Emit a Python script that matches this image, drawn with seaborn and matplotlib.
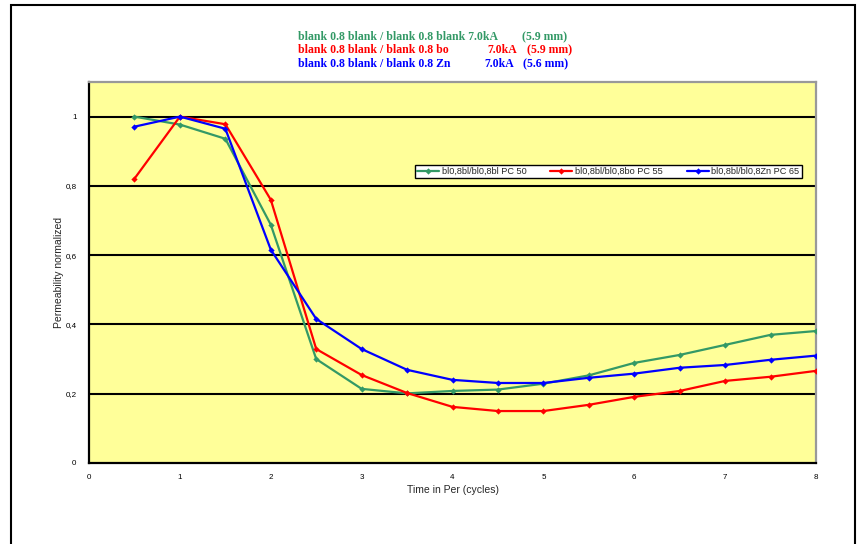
import numpy as np
import pandas as pd
import matplotlib.pyplot as plt
import matplotlib.patches as mpatches
import seaborn as sns

# data
cycles = [0.5, 1, 1.5, 2, 2.5, 3, 3.5, 4, 4.5, 5, 5.5, 6, 6.5, 7, 7.5, 8]

pc50 = [1.0, 0.977, 0.936, 0.688, 0.300, 0.214, 0.201, 0.208, 0.212, 0.229,
        0.253, 0.289, 0.312, 0.341, 0.370, 0.381]
pc55 = [0.821, 1.0, 0.978, 0.760, 0.329, 0.254, 0.202, 0.162, 0.150, 0.150,
        0.168, 0.191, 0.208, 0.237, 0.249, 0.266]
pc65 = [0.971, 1.0, 0.965, 0.616, 0.416, 0.329, 0.269, 0.240, 0.231, 0.231,
        0.246, 0.258, 0.275, 0.283, 0.298, 0.310]

series_names = ["bl0,8bl/bl0,8bl PC 50", "bl0,8bl/bl0,8bo PC 55", "bl0,8bl/bl0,8Zn PC 65"]
series_colors = ["#339966", "#FF0000", "#0000FF"]

yticks = [0, 0.2, 0.4, 0.6, 0.8, 1]
ytick_labels = ["0", "0,2", "0,4", "0,6", "0,8", "1"]
xticks = [0, 1, 2, 3, 4, 5, 6, 7, 8]

df = pd.concat([
    pd.DataFrame({"cycles": cycles, "perm": vals, "series": name})
    for name, vals in zip(series_names, [pc50, pc55, pc65])
])

sns.set_style("white")
plt.rcParams['font.family'] = ['Liberation Sans', 'DejaVu Sans']

fig = plt.figure(figsize=(8.57, 5.44), dpi=100)
ax = fig.add_axes([0.1039, 0.1489, 0.8483, 0.7004])
ax.set_facecolor("#FFFF99")

sns.lineplot(
    data=df, x="cycles", y="perm", hue="series",
    palette=dict(zip(series_names, series_colors)),
    marker="D", markersize=3.2, markeredgewidth=0,
    linewidth=1.6, ax=ax, legend=False, zorder=3
)

ax.set_xlim(0, 8)
ax.set_ylim(0, 1.1)
ax.set_xticks(xticks)
ax.set_xticklabels([str(t) for t in xticks])
ax.set_yticks(yticks)
ax.set_yticklabels(ytick_labels)
ax.tick_params(axis="both", direction="out", length=3, width=1.2,
               colors="black", labelsize=5.8, pad=6)
ax.tick_params(axis="x", pad=5)

for y in yticks[1:]:
    ax.axhline(y, color="black", lw=1.5, zorder=1)

for s in ["left", "bottom"]:
    ax.spines[s].set_color("black")
    ax.spines[s].set_linewidth(1.6)
for s in ["top", "right"]:
    ax.spines[s].set_color("#999999")
    ax.spines[s].set_linewidth(1.6)

ax.set_xlabel("Time in Per (cycles)", fontsize=7.5, labelpad=3)
ax.set_ylabel("Permeability normalized", fontsize=7.5, labelpad=1)

handles = [plt.Line2D([], [], color=c, lw=1.6, marker="D", markersize=3.2,
                      markeredgewidth=0) for c in series_colors]
leg = ax.legend(handles, series_names, ncol=3, fontsize=6.6,
                loc="upper left", bbox_to_anchor=(0.448, 0.783),
                frameon=True, fancybox=False, framealpha=1,
                edgecolor="black", handlelength=2.4, columnspacing=2.6,
                borderpad=0.25, handletextpad=0.3, borderaxespad=0)
leg.get_frame().set_linewidth(1.0)

# header lines above the chart
title_font = dict(family="Liberation Serif", weight="bold", fontsize=8.5, va="center")
W, H = 857, 544
header = [
    ("#339966", 37, [(298, "blank 0.8 blank / blank 0.8 blank 7.0kA"), (522, "(5.9 mm)")]),
    ("#FF0000", 50, [(298, "blank 0.8 blank / blank 0.8 bo"), (487, "7.0kA"), (527, "(5.9 mm)")]),
    ("#0000FF", 64, [(298, "blank 0.8 blank / blank 0.8 Zn"), (484, "7.0kA"), (523, "(5.6 mm)")]),
]
for color, ypx, parts in header:
    for xpx, txt in parts:
        fig.text(xpx / W, 1 - ypx / H, txt, color=color, **title_font)

# outer chart frame
fig.patches.append(mpatches.Rectangle((11 / W, -0.05), (855 - 11) / W, 1.05 - 5 / H,
                                      transform=fig.transFigure, fill=False,
                                      edgecolor="black", lw=1.5))

fig.savefig("out.png", dpi=100)
